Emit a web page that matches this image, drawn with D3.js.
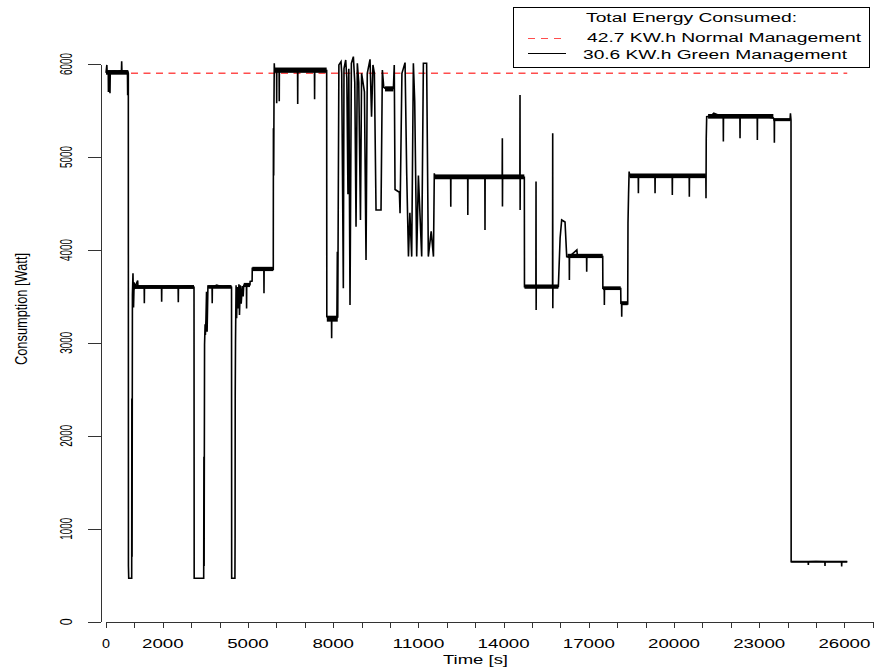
<!DOCTYPE html>
<html lang="en">

<head>
    <title>Energy Consumption</title>
    <script src="https://d3js.org/d3.v7.min.js"></script>
    <style>
        body {
            margin: 0;
            background: #fff;
        }
        svg text {
            font-family: "Liberation Sans", Arial, sans-serif;
            fill: #000;
        }
    </style>
</head>

<body>
    <svg id="chart" width="876" height="667"></svg>

    <script>
        // green management trace (time in s, power in W)
        var greenTime = [
            0, 30, 40, 80, 85, 95, 135, 140, 150, 300, 400, 545, 552, 560, 700, 755, 763, 770, 786,
            790, 800, 900, 905, 910, 918, 930, 950, 970, 990, 1020,
            1115, 1125, 1345, 1350, 1355, 1600, 1955, 1960, 1965, 2200, 2540, 2546, 2552, 2900, 3099,
            3105, 3440, 3448, 3455, 3470, 3490, 3500, 3520, 3540, 3560, 3590, 3600,
            3735, 3740, 3745, 3900, 4100, 4300, 4420,
            4425, 4540, 4545, 4550, 4560, 4580, 4600, 4620, 4650, 4680, 4700, 4730, 4760, 4800, 4830, 4850,
            4945, 4950, 4955, 5070, 5075, 5145, 5150, 5300, 5558, 5563, 5568, 5700, 5890,
            5895, 5905, 5915, 5925, 5935, 6005, 6010, 6015, 6095, 6100, 6105,
            6200, 6500, 6745, 6750, 6755, 7000, 7340, 7345, 7350, 7600, 7770,
            7775, 7940, 7945, 7950, 8130, 8146, 8160,
            8200, 8275, 8300, 8357, 8380, 8440, 8480, 8520, 8550, 8592, 8640, 8710, 8760, 8804, 8850,
            8900, 8960, 9000, 9100, 9156, 9200, 9297, 9350, 9400, 9450, 9508, 9684, 9731, 9780, 9825,
            10000, 10120, 10150, 10177, 10330, 10354, 10420, 10530, 10588, 10650, 10700, 10764, 10823,
            10870, 10940, 11000, 11116, 11175, 11290, 11350, 11450, 11530, 11560, 11580,
            12135, 12140, 12145, 12400, 12735, 12740, 12745, 13000, 13340, 13345, 13350, 13600,
            13950, 13956, 13960, 13965, 14300, 14573, 14578, 14582, 14587, 14730,
            14735, 15137, 15142, 15146, 15150, 15400, 15724, 15729, 15733, 15737, 15928,
            15990, 16045, 16163, 16222, 16311, 16316, 16321, 16580, 16600, 16921, 16926, 16931, 17200, 17490,
            17495, 17543, 17548, 17553, 17800, 18124,
            18130, 18154, 18159, 18164, 18370,
            18380, 18400, 18420, 18440, 18741, 18746, 18751, 19000, 19328, 19333, 19338, 19600,
            19936, 19941, 19946, 20200, 20535, 20540, 20545, 20800, 21122, 21127, 21135, 21151,
            21300, 21400, 21733, 21738, 21743, 22000, 22320, 22325, 22330, 22600, 22930, 22935, 22940,
            23200, 23499, 23529, 23534, 23539, 23800, 24086, 24100, 24120,
            24125, 24725, 24730, 24735, 25000, 25312, 25317, 25322, 25600, 25899, 25904, 25909, 26100
        ];
        var greenWatt = [
            5905, 5990, 5905, 5900, 5700, 5905, 5910, 5685, 5910, 5925, 5915, 5930, 6030, 5925, 5920, 5915, 5665, 5920, 5900,
            600, 467, 467, 467, 2400, 700, 3515, 3748, 3380, 3650, 3600,
            3670, 3600, 3600, 3425, 3600, 3610, 3600, 3443, 3600, 3610, 3600, 3436, 3600, 3610, 3600,
            467, 467, 1775, 600, 2980, 3200, 3085, 3260, 3550, 3120, 3620, 3600,
            3600, 3425, 3600, 3620, 3600, 3610, 3600,
            467, 467, 897, 2440, 3000, 3620, 3265, 3600, 3370, 3630, 3300, 3620, 3420, 3610, 3500, 3620,
            3620, 3370, 3620, 3625, 3660, 3665, 3800, 3790, 3790, 3533, 3790, 3800, 3790,
            5308, 4800, 5577, 6007, 5930, 5935, 5577, 5930, 5935, 5600, 5935,
            5940, 5930, 5935, 5570, 5935, 5945, 5930, 5620, 5930, 5935, 5930,
            3280, 3260, 3049, 3260, 3270, 3980, 3270,
            5990, 6025, 5900, 3587, 5950, 6043, 5850, 4600, 5950, 3408, 6008, 6079, 5800, 4250, 6008,
            5800, 4322, 5900, 5700, 3892, 5900, 6050, 5434, 5990, 5900, 4430, 4430, 5936, 5750, 5740,
            5720, 5740, 5990, 4650, 4620, 4394, 5900, 6015, 4824, 3928, 4400, 3928, 6008,
            5600, 3928, 4800, 3928, 6008, 6008, 3928, 4200, 3928, 4824, 4780,
            4780, 4465, 4780, 4790, 4780, 4375, 4780, 4790, 4780, 4215, 4780, 4785,
            4780, 5201, 4466, 4780, 4785, 4780, 5667, 4430, 4780, 4780,
            3605, 3600, 4735, 3354, 3600, 3610, 3600, 5254, 3372, 3600, 3605,
            4128, 4322, 4300, 3928, 3930, 3677, 3930, 4000, 3930, 3930, 3766, 3930, 3940, 3930,
            3587, 3587, 3408, 3587, 3590, 3585,
            3426, 3426, 3282, 3426, 3420,
            4286, 4600, 4842, 4795, 4795, 4609, 4795, 4790, 4795, 4609, 4795, 4800,
            4790, 4591, 4790, 4795, 4790, 4573, 4790, 4795, 4790, 4555, 5201, 5434,
            5440, 5470, 5430, 5165, 5430, 5440, 5430, 5201, 5430, 5440, 5430, 5183, 5430,
            5435, 5420, 5398, 5154, 5398, 5400, 5398, 5470, 5398,
            645, 645, 610, 645, 648, 645, 600, 645, 645, 645, 595, 645, 645
        ];

        // measurement noise around the flat stretches (thick parts of the trace)
        var bandStart = [0, 1020, 3600, 4850, 5150, 5935, 7775, 9825, 11580, 14735, 16250, 17495, 18130, 18440, 21200, 23499, 24125];
        var bandEnd = [786, 3099, 4420, 5070, 5890, 7770, 8160, 10120, 14730, 15928, 17490, 18124, 18370, 21122, 23499, 24086, 26100];
        var bandLow = [5885, 3580, 3582, 3600, 3772, 5905, 3228, 5705, 4760, 3582, 3912, 3568, 3405, 4772, 5412, 5385, 636];
        var bandHigh = [5935, 3622, 3622, 3645, 3818, 5962, 3292, 5760, 4812, 3628, 3958, 3608, 3448, 4822, 5462, 5418, 656];

        // normal management constant level
        var normalTime = [0, 26100];
        var normalWatt = [5900, 5900];

        var xTicks = [0, 1000, 2000, 3000, 4000, 5000, 6000, 7000, 8000, 9000, 10000, 11000, 12000, 13000,
            14000, 15000, 16000, 17000, 18000, 19000, 20000, 21000, 22000, 23000, 24000, 25000, 26000, 27000];
        var xLabels = [0, 2000, 5000, 8000, 11000, 14000, 17000, 20000, 23000, 26000];
        var yTicks = [0, 1000, 2000, 3000, 4000, 5000, 6000];

        var legendLabels = ["42.7 KW.h Normal Management", "30.6 KW.h Green Management"];

        var svg = d3.select("#chart");

        var x = d3.scaleLinear().domain([0, 27000]).range([106, 872.8]);
        var y = d3.scaleLinear().domain([0, 6000]).range([621.7, 64]);

        // axes
        var yAxis = d3.axisLeft(y).tickValues(yTicks).tickSize(13).tickSizeOuter(0).tickFormat("");
        var xAxis = d3.axisBottom(x).tickValues(xTicks).tickSize(6).tickSizeOuter(0).tickFormat("");

        var yG = svg.append("g").attr("transform", "translate(100.5,0)").call(yAxis);
        var xG = svg.append("g").attr("transform", "translate(0,622)").call(xAxis);
        [yG, xG].forEach(function (g) {
            g.selectAll("path, line").attr("stroke", "#333").attr("stroke-width", 1).attr("shape-rendering", "crispEdges");
        });

        svg.append("g").selectAll("text")
            .data(yTicks)
            .enter()
            .append("text")
            .attr("transform", d => "translate(72," + y(d) + ") rotate(-90)")
            .attr("text-anchor", "middle")
            .attr("font-size", 17)
            .attr("textLength", d => d === 0 ? 7 : 22)
            .attr("lengthAdjust", "spacingAndGlyphs")
            .text(d => d);

        svg.append("g").selectAll("text")
            .data(xLabels)
            .enter()
            .append("text")
            .attr("x", d => x(d))
            .attr("y", 647.5)
            .attr("text-anchor", "middle")
            .attr("font-size", 12)
            .attr("textLength", d => String(d).length === 1 ? 8 : String(d).length * 10.4)
            .attr("lengthAdjust", "spacingAndGlyphs")
            .text(d => d);

        svg.append("text")
            .attr("x", 443).attr("y", 664)
            .attr("font-size", 12.5)
            .attr("textLength", 65)
            .attr("lengthAdjust", "spacingAndGlyphs")
            .text("Time [s]");

        svg.append("text")
            .attr("transform", "translate(27,309) rotate(-90)")
            .attr("text-anchor", "middle")
            .attr("font-size", 17)
            .attr("textLength", 112)
            .attr("lengthAdjust", "spacingAndGlyphs")
            .text("Consumption [Watt]");

        // normal management
        var normal = normalTime.map((t, i) => [t, normalWatt[i]]);
        svg.append("path")
            .datum(normal)
            .attr("fill", "none")
            .attr("stroke", "#ff4d4d")
            .attr("stroke-width", 1.4)
            .attr("stroke-dasharray", "7,5.5")
            .attr("d", d3.line().x(d => x(d[0])).y(d => y(d[1])));

        // noise bands
        svg.append("g").selectAll("rect")
            .data(bandStart)
            .enter()
            .append("rect")
            .attr("x", (d, i) => x(d))
            .attr("width", (d, i) => x(bandEnd[i]) - x(d))
            .attr("y", (d, i) => y(bandHigh[i]))
            .attr("height", (d, i) => y(bandLow[i]) - y(bandHigh[i]))
            .attr("fill", "#000");

        // green management
        var green = greenTime.map((t, i) => [t, greenWatt[i]]);
        svg.append("path")
            .datum(green)
            .attr("fill", "none")
            .attr("stroke", "#000")
            .attr("stroke-width", 1.6)
            .attr("stroke-linejoin", "miter")
            .attr("d", d3.line().x(d => x(d[0])).y(d => y(d[1])));

        // legend
        var lg = svg.append("g");
        lg.append("rect")
            .attr("x", 513.5).attr("y", 7.5)
            .attr("width", 356).attr("height", 60)
            .attr("fill", "#fff")
            .attr("stroke", "#000")
            .attr("stroke-width", 1);
        lg.append("text")
            .attr("x", 586).attr("y", 21.7)
            .attr("font-size", 12.5)
            .attr("textLength", 211)
            .attr("lengthAdjust", "spacingAndGlyphs")
            .text("Total Energy Consumed:");
        lg.append("line")
            .attr("x1", 528).attr("x2", 564).attr("y1", 38.5).attr("y2", 38.5)
            .attr("stroke", "#ff4d4d").attr("stroke-width", 1)
            .attr("stroke-dasharray", "7,6");
        lg.append("line")
            .attr("x1", 528).attr("x2", 566).attr("y1", 53.5).attr("y2", 53.5)
            .attr("stroke", "#000").attr("stroke-width", 1);
        lg.append("text")
            .attr("x", 587).attr("y", 41.7)
            .attr("font-size", 12.5)
            .attr("textLength", 274)
            .attr("lengthAdjust", "spacingAndGlyphs")
            .text(legendLabels[0]);
        lg.append("text")
            .attr("x", 583).attr("y", 59)
            .attr("font-size", 12.5)
            .attr("textLength", 264)
            .attr("lengthAdjust", "spacingAndGlyphs")
            .text(legendLabels[1]);
    </script>
</body>

</html>
